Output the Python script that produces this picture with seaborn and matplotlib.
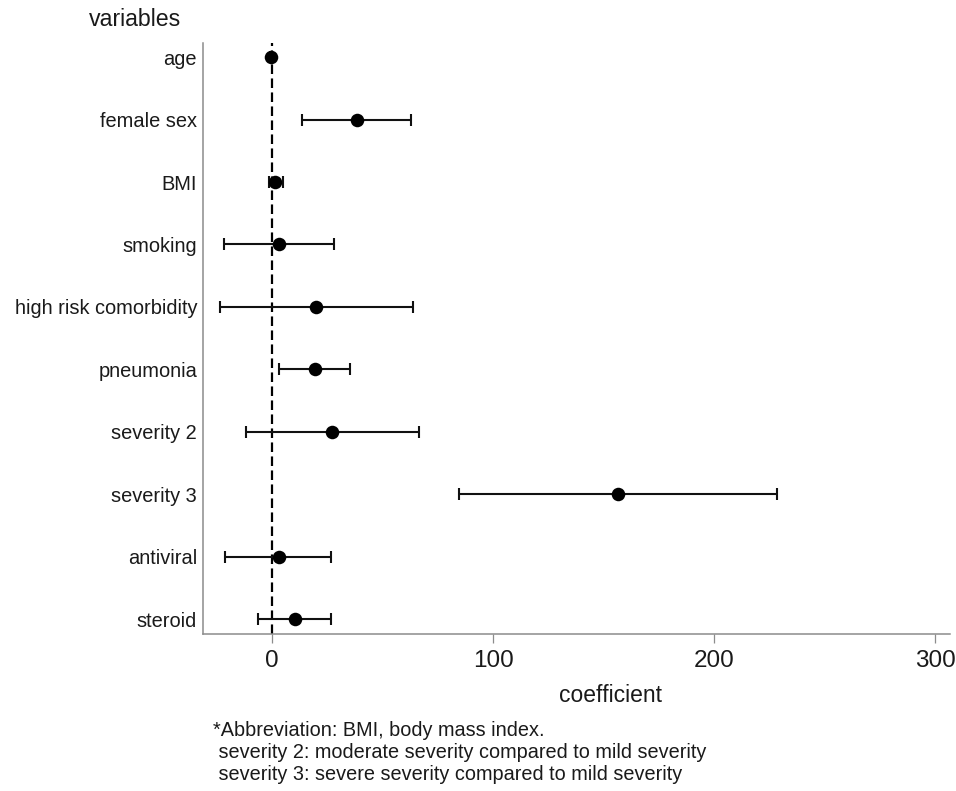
import numpy as np
import pandas as pd
import matplotlib
matplotlib.use("Agg")
import matplotlib.pyplot as plt
import seaborn as sns

# values
variables = ["age", "female sex", "BMI", "smoking", "high risk comorbidity",
             "pneumonia", "severity 2", "severity 3", "antiviral", "steroid"]
coef = [-0.5, 38.2, 1.4, 3.2, 19.9, 19.2, 27.1, 156.3, 2.9, 10.4]
ci_low = [-1.0, 13.6, -1.5, -22.0, -23.7, 3.2, -12.0, 84.3, -21.3, -6.3]
ci_high = [0.0, 62.6, 4.7, 27.8, 63.7, 35.0, 66.2, 228.5, 26.7, 26.7]
xticks = [0, 100, 200, 300]

footnote = ["*Abbreviation: BMI, body mass index.",
            " severity 2: moderate severity compared to mild severity",
            " severity 3: severe severity compared to mild severity"]

df = pd.DataFrame({"variable": variables, "coef": coef,
                   "lo": ci_low, "hi": ci_high})
df["pos"] = np.arange(len(df))

sns.set_theme(style="white")
plt.rcParams['font.family'] = ['Liberation Sans', 'DejaVu Sans']

fig = plt.figure(figsize=(9.56, 7.91), dpi=100)
ax = fig.add_axes([0.2127, 0.1981, 0.7811, 0.7479])

# zero reference line
ax.axvline(0, color="black", lw=1.6, linestyle=(0, (4.3, 2.0)), zorder=1)

# confidence intervals
ax.errorbar(df["coef"], df["pos"],
            xerr=[df["coef"] - df["lo"], df["hi"] - df["coef"]],
            fmt="none", ecolor="#111111", elinewidth=1.5, capsize=4.6,
            capthick=1.5, zorder=2)

sns.scatterplot(data=df, x="coef", y="pos", color="black", s=95,
                edgecolor="black", linewidth=0, zorder=3, ax=ax)

ax.set_xlim(-31.2, 306.7)
ax.set_ylim(9.24, -0.23)
ax.set_xticks(xticks)
ax.set_yticks(df["pos"])
ax.set_yticklabels(df["variable"])
ax.set_xlabel("")
ax.set_ylabel("")

sns.despine(ax=ax)
for side in ["left", "bottom"]:
    ax.spines[side].set_color("#8c8c8c")
    ax.spines[side].set_linewidth(1.1)

ax.tick_params(axis="x", direction="out", length=6.5, width=0.9,
               color="#8c8c8c", labelsize=17.5, pad=5, labelcolor="#1a1a1a",
               bottom=True)
ax.tick_params(axis="y", length=0, labelsize=14.4, pad=4.5,
               labelcolor="#1a1a1a")

fig.text(135.5 / 956, 1 - 20 / 791, "variables", fontsize=16.7,
         ha="center", va="center", color="#1a1a1a")
fig.text(611 / 956, 1 - 695 / 791, "coefficient", fontsize=16.5,
         ha="center", va="center", color="#1a1a1a")

for i, line in enumerate(footnote):
    fig.text(213 / 956, 1 - (731 + 22 * i) / 791, line, fontsize=14.3,
             ha="left", va="center", color="#1a1a1a")

fig.savefig("out.png", dpi=100)
